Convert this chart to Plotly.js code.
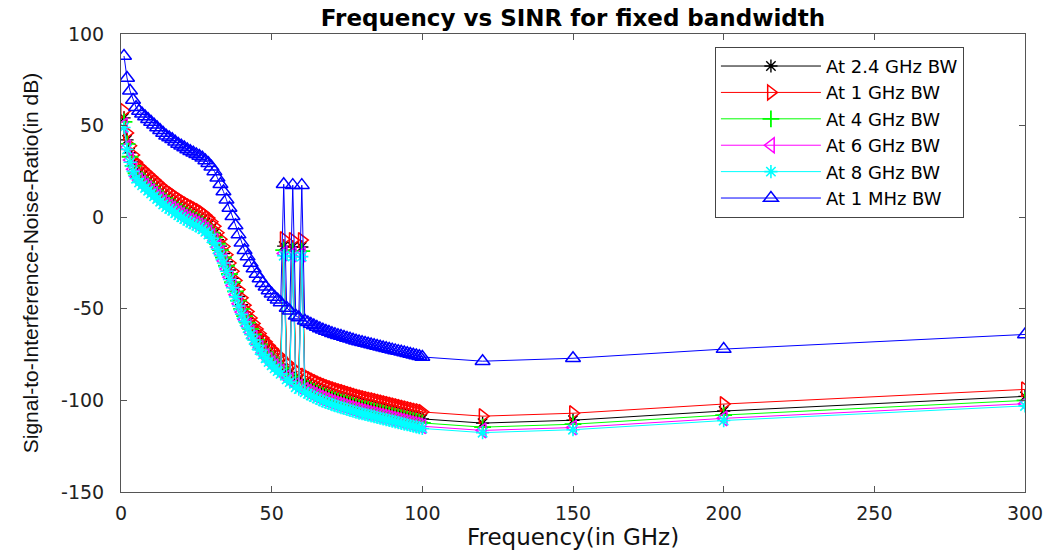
<!DOCTYPE html>
<html>
<head>
<meta charset="utf-8">
<script src="https://cdn.plot.ly/plotly-3.0.1.min.js"></script>
<style>
  html, body { margin: 0; padding: 0; background: #fff; }
  #chart { width: 1049px; height: 552px; }
</style>
</head>
<body>
<div id="chart"></div>
<script>
// Frequency points (GHz)
const freq = [1,2,3,4,5,6,7,8,9,10,
  11,12,13,14,15,16,17,18,19,20,
  21,22,23,24,25,26,27,28,29,30,
  31,32,33,34,35,36,37,38,39,40,
  41,42,43,44,45,46,47,48,49,50,
  51,52,53,54,55,56,57,58,59,60,
  61,62,63,64,65,66,67,68,69,70,
  71,72,73,74,75,76,77,78,79,80,
  81,82,83,84,85,86,87,88,89,90,
  91,92,93,94,95,96,97,98,99,100,
  120,150,200,300];

// SINR (dB)
const sinr_2_4GHz = [54.2,42.2,35.2,30.2,26.2,24.2,22.7,21.2,19.7,18.2,
  16.7,15.2,13.7,12.2,10.7,9.7,8.7,7.4,6.2,5.2,
  4.2,3.2,2.2,1.4,0.5,-0.4,-1.4,-2.8,-4.3,-6.3,
  -8.8,-12.3,-15.8,-19.8,-24.3,-28.8,-33.3,-38.3,-43.3,-47.8,
  -51.8,-55.3,-58.8,-61.8,-64.8,-67.3,-69.8,-71.8,-73.8,-75.6,
  -77.3,-78.8,-80.3,-15.8,-83.3,-84.8,-16.3,-87.6,-88.6,-16.3,
  -90.3,-91.2,-92.1,-92.9,-93.7,-94.5,-95.2,-95.9,-96.5,-97.1,
  -97.7,-98.2,-98.7,-99.2,-99.7,-100.2,-100.7,-101.2,-101.7,-102.1,
  -102.5,-102.9,-103.3,-103.7,-104.1,-104.5,-104.9,-105.3,-105.7,-106.1,
  -106.5,-106.9,-107.3,-107.7,-108.1,-108.5,-108.9,-109.3,-109.7,-110.1,
  -112.4,-110.8,-105.8,-97.8];

const sinr_1GHz = [58,46,39,34,30,28,26.5,25,23.5,22,
  20.5,19,17.5,16,14.5,13.5,12.5,11.2,10,9,
  8,7,6,5.2,4.3,3.4,2.4,1,-0.5,-2.5,
  -5,-8.5,-12,-16,-20.5,-25,-29.5,-34.5,-39.5,-44,
  -48,-51.5,-55,-58,-61,-63.5,-66,-68,-70,-71.8,
  -73.5,-75,-76.5,-12,-79.5,-81,-12.5,-83.8,-84.8,-12.5,
  -86.5,-87.4,-88.3,-89.1,-89.9,-90.7,-91.4,-92.1,-92.7,-93.3,
  -93.9,-94.4,-94.9,-95.4,-95.9,-96.4,-96.9,-97.4,-97.9,-98.3,
  -98.7,-99.1,-99.5,-99.9,-100.3,-100.7,-101.1,-101.5,-101.9,-102.3,
  -102.7,-103.1,-103.5,-103.9,-104.3,-104.7,-105.1,-105.5,-105.9,-106.3,
  -108.6,-107,-102,-94];

const sinr_4GHz = [52,40,33,28,24,22,20.5,19,17.5,16,
  14.5,13,11.5,10,8.5,7.5,6.5,5.2,4,3,
  2,1,0,-0.8,-1.7,-2.6,-3.6,-5,-6.5,-8.5,
  -11,-14.5,-18,-22,-26.5,-31,-35.5,-40.5,-45.5,-50,
  -54,-57.5,-61,-64,-67,-69.5,-72,-74,-76,-77.8,
  -79.5,-81,-82.5,-18,-85.5,-87,-18.5,-89.8,-90.8,-18.5,
  -92.5,-93.4,-94.3,-95.1,-95.9,-96.7,-97.4,-98.1,-98.7,-99.3,
  -99.9,-100.4,-100.9,-101.4,-101.9,-102.4,-102.9,-103.4,-103.9,-104.3,
  -104.7,-105.1,-105.5,-105.9,-106.3,-106.7,-107.1,-107.5,-107.9,-108.3,
  -108.7,-109.1,-109.5,-109.9,-110.3,-110.7,-111.1,-111.5,-111.9,-112.3,
  -114.6,-113,-108,-100];

const sinr_6GHz = [50.2,38.2,31.2,26.2,22.2,20.2,18.7,17.2,15.7,14.2,
  12.7,11.2,9.7,8.2,6.7,5.7,4.7,3.4,2.2,1.2,
  0.2,-0.8,-1.8,-2.6,-3.5,-4.4,-5.4,-6.8,-8.3,-10.3,
  -12.8,-16.3,-19.8,-23.8,-28.3,-32.8,-37.3,-42.3,-47.3,-51.8,
  -55.8,-59.3,-62.8,-65.8,-68.8,-71.3,-73.8,-75.8,-77.8,-79.6,
  -81.3,-82.8,-84.3,-19.8,-87.3,-88.8,-20.3,-91.6,-92.6,-20.3,
  -94.3,-95.2,-96.1,-96.9,-97.7,-98.5,-99.2,-99.9,-100.5,-101.1,
  -101.7,-102.2,-102.7,-103.2,-103.7,-104.2,-104.7,-105.2,-105.7,-106.1,
  -106.5,-106.9,-107.3,-107.7,-108.1,-108.5,-108.9,-109.3,-109.7,-110.1,
  -110.5,-110.9,-111.3,-111.7,-112.1,-112.5,-112.9,-113.3,-113.7,-114.1,
  -116.4,-114.8,-109.8,-101.8];

const sinr_8GHz = [49,37,30,25,21,19,17.5,16,14.5,13,
  11.5,10,8.5,7,5.5,4.5,3.5,2.2,1,0,
  -1,-2,-3,-3.8,-4.7,-5.6,-6.6,-8,-9.5,-11.5,
  -14,-17.5,-21,-25,-29.5,-34,-38.5,-43.5,-48.5,-53,
  -57,-60.5,-64,-67,-70,-72.5,-75,-77,-79,-80.8,
  -82.5,-84,-85.5,-21,-88.5,-90,-21.5,-92.8,-93.8,-21.5,
  -95.5,-96.4,-97.3,-98.1,-98.9,-99.7,-100.4,-101.1,-101.7,-102.3,
  -102.9,-103.4,-103.9,-104.4,-104.9,-105.4,-105.9,-106.4,-106.9,-107.3,
  -107.7,-108.1,-108.5,-108.9,-109.3,-109.7,-110.1,-110.5,-110.9,-111.3,
  -111.7,-112.1,-112.5,-112.9,-113.3,-113.7,-114.1,-114.5,-114.9,-115.3,
  -117.6,-116,-111,-103];

const sinr_1MHz = [88,76,69,64,60,58,56.5,55,53.5,52,
  50.5,49,47.5,46,44.5,43.5,42.5,41.2,40,39,
  38,37,36,35.2,34.3,33.4,32.4,31,29.5,27.5,
  25,21.5,18,14,9.5,5,0.5,-4.5,-9.5,-14,
  -18,-21.5,-25,-28,-31,-33.5,-36,-38,-40,-41.8,
  -43.5,-45,-46.5,18,-49.5,-51,17.5,-53.8,-54.8,17.5,
  -56.5,-57.4,-58.3,-59.1,-59.9,-60.7,-61.4,-62.1,-62.7,-63.3,
  -63.9,-64.4,-64.9,-65.4,-65.9,-66.4,-66.9,-67.4,-67.9,-68.3,
  -68.7,-69.1,-69.5,-69.9,-70.3,-70.7,-71.1,-71.5,-71.9,-72.3,
  -72.7,-73.1,-73.5,-73.9,-74.3,-74.7,-75.1,-75.5,-75.9,-76.3,
  -78.6,-77,-72,-64];

const seriesNames = ['At 2.4 GHz BW','At 1 GHz BW','At 4 GHz BW','At 6 GHz BW','At 8 GHz BW','At 1 MHz BW'];
const xTickVals = [0,50,100,150,200,250,300];
const xTickText = ['0','50','100','150','200','250','300'];
const yTickVals = [-150,-100,-50,0,50,100];
const yTickText = ['-150','-100','-50','0','50','100'];

const styles = [
  {color:'#000000', symbol:'asterisk-open', size:11, lw:1.4},
  {color:'#ff0000', symbol:'triangle-right-open', size:13, lw:1.5},
  {color:'#00ff00', symbol:'cross-thin-open', size:12, lw:1.8},
  {color:'#ff00ff', symbol:'triangle-left-open', size:13, lw:1.5},
  {color:'#00ffff', symbol:'asterisk-open', size:11, lw:1.6},
  {color:'#0000ff', symbol:'triangle-up-open', size:13, lw:1.5}
];
const ys = [sinr_2_4GHz, sinr_1GHz, sinr_4GHz, sinr_6GHz, sinr_8GHz, sinr_1MHz];

const traces = ys.map((y, i) => ({
  x: freq, y: y, name: seriesNames[i], type: 'scatter', mode: 'lines+markers',
  line: {color: styles[i].color, width: 1},
  marker: {symbol: styles[i].symbol, size: styles[i].size, color: styles[i].color,
           line: {color: styles[i].color, width: styles[i].lw}}
}));

const layout = {
  width: 1049, height: 552,
  margin: {l: 121, r: 24, t: 34, b: 60},
  paper_bgcolor: '#ffffff', plot_bgcolor: '#ffffff',
  showlegend: true,
  title: {text: '<b>Frequency vs SINR for fixed bandwidth</b>',
          font: {family: 'DejaVu Sans', size: 23, color: '#000'},
          x: 0.5, xref: 'paper', y: 0.968, yref: 'container', yanchor: 'middle'},
  xaxis: {range: [0, 300], tickvals: xTickVals, ticktext: xTickText,
          showgrid: false, zeroline: false, showline: true, mirror: 'ticks',
          linecolor: '#555', linewidth: 1, ticks: 'inside', ticklen: 6, tickcolor: '#555',
          tickfont: {family: 'DejaVu Sans', size: 19, color: '#222'},
          ticklabelstandoff: 4,
          title: {text: 'Frequency(in GHz)', font: {family: 'DejaVu Sans', size: 23, color: '#111'}, standoff: 4}},
  yaxis: {range: [-150, 100], tickvals: yTickVals, ticktext: yTickText,
          showgrid: false, zeroline: false, showline: true, mirror: 'ticks',
          linecolor: '#555', linewidth: 1, ticks: 'inside', ticklen: 6, tickcolor: '#555',
          tickfont: {family: 'DejaVu Sans', size: 19, color: '#222'},
          ticklabelstandoff: 12,
          title: {text: 'Signal-to-Interference-Noise-Ratio(in dB)', font: {family: 'Liberation Sans', size: 21, color: '#111'}, standoff: 16}},
  legend: {x: 0.657, y: 0.972, xanchor: 'left', yanchor: 'top',
           bgcolor: '#ffffff', bordercolor: '#444', borderwidth: 1,
           font: {family: 'DejaVu Sans', size: 18, color: '#000'},
           itemwidth: 100, tracegroupgap: 0, entrywidth: 280, entrywidthmode: 'pixels'}
};

Plotly.newPlot('chart', traces, layout, {displayModeBar: false, staticPlot: true});
</script>
</body>
</html>
